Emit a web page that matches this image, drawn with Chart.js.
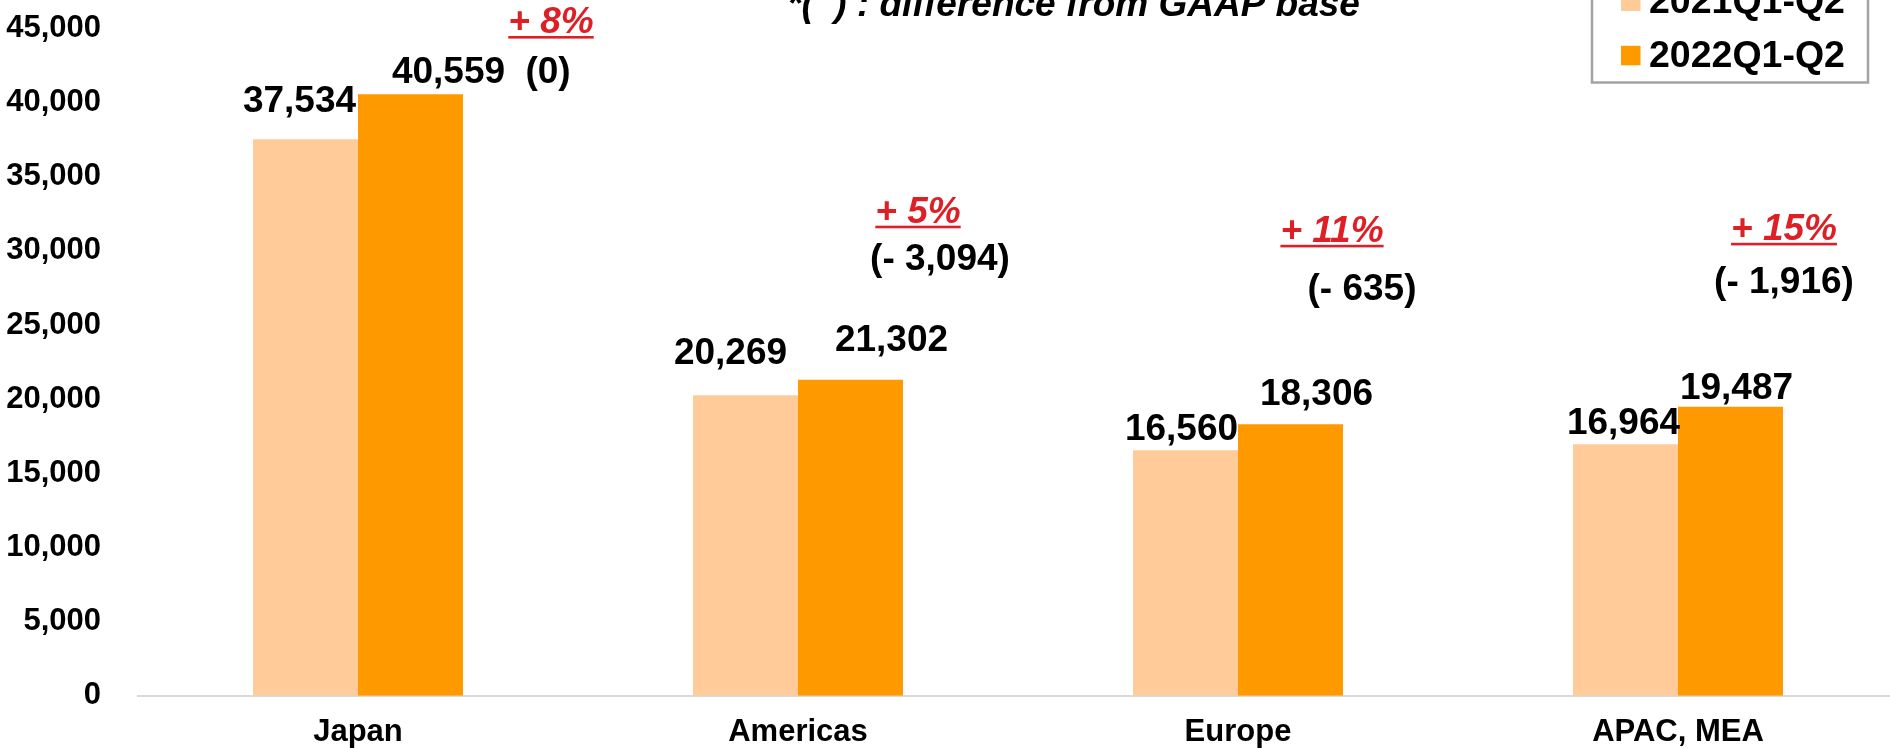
<!DOCTYPE html>
<html>
<head>
<meta charset="utf-8">
<script src="https://cdn.jsdelivr.net/npm/chart.js@4.4.1/dist/chart.umd.min.js"></script>
<style>
  html, body { margin: 0; padding: 0; background: #ffffff; overflow: hidden; }
  #wrap { width: 1898px; height: 748px; }
</style>
</head>
<body>
<div id="wrap"><canvas id="c" width="1898" height="748"></canvas></div>
<script>
// ---- data ----
const categories = ['Japan', 'Americas', 'Europe', 'APAC, MEA'];
const seriesNames = ['2021Q1-Q2', '2022Q1-Q2'];
const values2021 = [37534, 20269, 16560, 16964];
const values2022 = [40559, 21302, 18306, 19487];
const growthLabels = ['+ 8%', '+ 5%', '+ 11%', '+ 15%'];
const gaapDiffLabels = ['(0)', '(- 3,094)', '(- 635)', '(- 1,916)'];
const yMin = 0;
const yMax = 45000;
const yStep = 5000;
const noteText = '*(  ) : difference from GAAP base';

// ---- styles / layout (not data) ----
const FONT = "'Liberation Sans', Arial, Helvetica, sans-serif";
const colors = ['#FFCC99', '#FF9900'];
const RED = '#DE1F26';
// per dataset, per category: label horizontal nudge (px) and gap above bar top (px)
const labelNudge = [
  { dx: [-6, -15, -4, -2], gap: [27, 31, 10, 10] },
  { dx: [38, 41, 26, 6],   gap: [11, 29, 19, 8] }
];
// annotation placement: dx from category centre, vertical position in axis units
const annotLayout = [
  { gdx: 193, gy: 44690, ddx: 190, dy: 41304 },
  { gdx: 120, gy: 31900, ddx: 142, dy: 28716 },
  { gdx: 94,  gy: 30611, ddx: 124, dy: 26686 },
  { gdx: 106, gy: 30746, ddx: 106, dy: 27160 }
];

const fmt = v => v.toLocaleString('en-US');

const overlayPlugin = {
  id: 'overlay',
  afterDatasetsDraw(chart) {
    const ctx = chart.ctx;
    const xs = chart.scales.x, ys = chart.scales.y;
    ctx.save();
    // value labels
    ctx.font = `bold 37px ${FONT}`;
    ctx.fillStyle = '#000';
    ctx.textAlign = 'center';
    ctx.textBaseline = 'alphabetic';
    chart.data.datasets.forEach((ds, di) => {
      const meta = chart.getDatasetMeta(di);
      meta.data.forEach((bar, i) => {
        const n = labelNudge[di];
        ctx.fillText(fmt(ds.data[i]), bar.x + n.dx[i], bar.y - n.gap[i]);
      });
    });
    // growth and GAAP difference annotations
    categories.forEach((c, i) => {
      const cx = xs.getPixelForValue(i);
      const L = annotLayout[i];
      ctx.font = `italic bold 37px ${FONT}`;
      ctx.fillStyle = RED;
      const gx = cx + L.gdx, gy = ys.getPixelForValue(L.gy);
      ctx.fillText(growthLabels[i], gx, gy);
      const w = ctx.measureText(growthLabels[i]).width;
      ctx.fillRect(gx - w / 2, gy + 3, w, 2.6);
      ctx.font = `bold 37px ${FONT}`;
      ctx.fillStyle = '#000';
      ctx.fillText(gaapDiffLabels[i], cx + L.ddx, ys.getPixelForValue(L.dy));
    });
    // note at the top (partly cut off)
    ctx.font = `italic bold 37px ${FONT}`;
    ctx.textAlign = 'left';
    ctx.fillStyle = '#000';
    ctx.fillText(noteText, 787, 16);
    // legend box (partly cut off at top)
    ctx.strokeStyle = '#a3a3a3';
    ctx.lineWidth = 2.5;
    ctx.strokeRect(1592, -40, 276, 122.5);
    ctx.font = `bold 37.5px ${FONT}`;
    ctx.textAlign = 'left';
    chart.data.datasets.forEach((ds, di) => {
      const base = 13 + di * 54.3;
      ctx.fillStyle = ds.backgroundColor;
      ctx.fillRect(1621, base - 21.5, 19.5, 19.5);
      ctx.fillStyle = '#000';
      ctx.fillText(ds.label, 1649, base);
    });
    ctx.restore();
  }
};

new Chart(document.getElementById('c'), {
  type: 'bar',
  data: {
    labels: categories,
    datasets: [
      { label: seriesNames[0], data: values2021, backgroundColor: colors[0], borderWidth: 0 },
      { label: seriesNames[1], data: values2022, backgroundColor: colors[1], borderWidth: 0 }
    ]
  },
  options: {
    responsive: false,
    animation: false,
    devicePixelRatio: 1,
    layout: { padding: { top: 28.4, left: 0, right: 0, bottom: 0 } },
    datasets: { bar: { categoryPercentage: 0.4773, barPercentage: 1.0 } },
    plugins: { legend: { display: false }, tooltip: { enabled: false }, title: { display: false } },
    scales: {
      x: {
        grid: { display: false, drawTicks: false },
        border: { display: true, color: '#d9d9d9', width: 2 },
        ticks: { color: '#000', padding: 21, font: { family: FONT, size: 31, weight: 'bold', lineHeight: 1.0 } },
        afterFit(scale) { scale.height = 52.2; scale.paddingLeft = 0; scale.paddingRight = 0; }
      },
      y: {
        min: yMin, max: yMax,
        grid: { display: false, drawTicks: false },
        border: { display: false },
        ticks: {
          stepSize: yStep, color: '#000', padding: 37,
          font: { family: FONT, size: 31, weight: 'bold' },
          callback: v => fmt(v)
        },
        afterFit(scale) { scale.width = 138; scale.paddingTop = 0; scale.paddingBottom = 0; }
      }
    }
  },
  plugins: [overlayPlugin]
});
</script>
</body>
</html>
